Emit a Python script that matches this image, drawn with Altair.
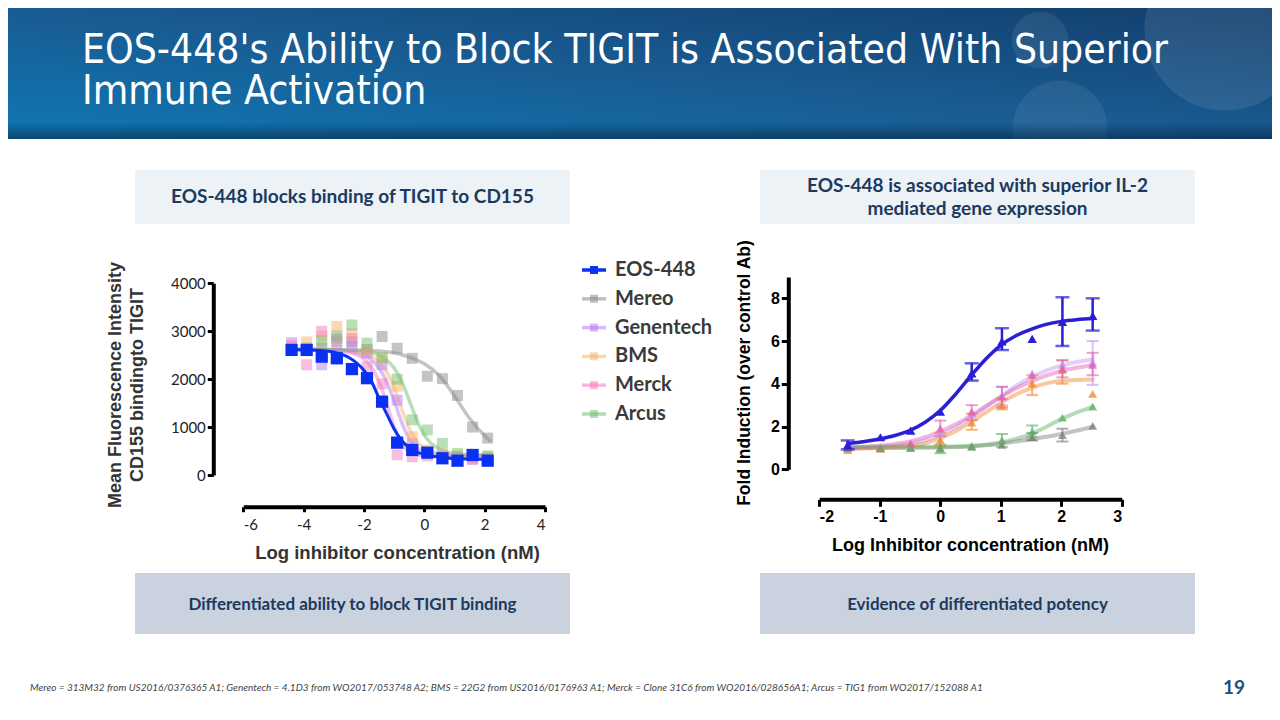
import altair as alt
import pandas as pd

NAMES = ["EOS-448", "Mereo", "Genentech", "BMS", "Merck", "Arcus"]

# ---------------- Left panel: MFI vs log inhibitor concentration ----------------
L_X = [-4.4, -3.9, -3.4, -2.9, -2.4, -1.9, -1.4, -0.9, -0.4, 0.1, 0.6, 1.1, 1.6, 2.1]
L_EOS = [2610, 2610, 2470, 2435, 2210, 2020, 1530, 675, 522, 466, 349, 299, 418, 299]
L_MEREO = [2600, 2620, 2650, 2800, 2780, 2620, 2890, 2645, 2435, 2060, 2010, 1660, 1000, 770]
L_GENEN = [2760, 2600, 2300, 2600, 2680, 2550, 2300, 1560, 650, 470, 420, 380, 330, 350]
L_BMS = [2650, 2780, 2900, 3100, 2950, 2600, 2435, 1850, 800, 520, 430, 400, 380, 380]
L_MERCK = [2700, 2300, 3000, 2850, 2850, 2260, 1900, 420, 380, 400, 380, 360, 330, 340]
L_ARCUS = [2620, 2650, 2800, 2900, 3130, 2750, 2450, 2000, 1150, 940, 660, 450, 420, 400]

# fitted curves
LC_X = [-4.5, -4.0, -3.5, -3.0, -2.5, -2.0, -1.75, -1.5, -1.25, -1.0, -0.75, -0.5, -0.25, 0.0, 0.5, 1.0, 1.5, 2.0, 2.2]
LC_EOS = [2620, 2615, 2600, 2560, 2450, 2180, 1950, 1600, 1280, 960, 720, 570, 480, 430, 370, 345, 335, 330, 330]
LC_MEREO = [2620, 2620, 2620, 2615, 2610, 2600, 2595, 2585, 2570, 2545, 2510, 2460, 2400, 2320, 2070, 1650, 1180, 820, 700]
LC_GENEN = [2620, 2620, 2615, 2605, 2580, 2500, 2400, 2230, 1950, 1550, 1100, 760, 570, 480, 420, 405, 400, 400, 400]
LC_BMS = [2620, 2620, 2618, 2610, 2595, 2550, 2480, 2350, 2150, 1820, 1380, 970, 700, 560, 450, 415, 410, 410, 410]
LC_MERCK = [2620, 2620, 2615, 2600, 2560, 2420, 2250, 1950, 1500, 1000, 650, 480, 420, 400, 390, 385, 385, 385, 385]
LC_ARCUS = [2620, 2620, 2620, 2615, 2605, 2585, 2560, 2500, 2400, 2230, 1950, 1560, 1150, 830, 540, 450, 425, 420, 420]

L_COLORS = ["#0a30f2", "#8a8a8a", "#b77cf2", "#f9b46a", "#f27cc0", "#72c072"]
L_XTICKS = [-6, -4, -2, 0, 2, 4]
L_YTICKS = [0, 1000, 2000, 3000, 4000]

# ---------------- Right panel: fold induction ----------------
R_X = [-1.53, -0.99, -0.49, 0.0, 0.52, 1.02, 1.52, 2.02, 2.52]
R_EOS = [1.14, 1.5, 1.81, 2.7, 4.49, 5.98, 6.1, 6.9, 7.18]
R_MEREO = [1.0, 1.0, 1.0, 1.0, 1.05, 1.14, 1.5, 1.6, 2.03]
R_GENEN = [1.0, 1.0, 1.15, 1.7, 2.6, 3.4, 4.49, 4.9, 5.0]
R_BMS = [0.9, 0.95, 1.2, 1.37, 2.18, 3.0, 4.02, 4.65, 3.53]
R_MERCK = [1.0, 1.0, 1.2, 1.92, 2.7, 3.4, 4.4, 4.7, 4.88]
R_ARCUS = [1.0, 1.0, 1.0, 0.95, 1.1, 1.37, 1.76, 2.42, 2.93]

R_EOS_LO = [0.93, None, None, None, 4.15, 5.58, None, 5.77, 6.49]
R_EOS_HI = [1.35, None, None, None, 4.96, 6.6, None, 8.05, 8.0]
R_MEREO_LO = [None, None, None, None, None, None, 1.35, 1.3, None]
R_MEREO_HI = [None, None, None, None, None, None, 1.7, 1.9, None]
R_GENEN_LO = [None, None, None, None, None, 3.0, None, None, 3.95]
R_GENEN_HI = [None, None, None, None, None, 3.87, None, None, 6.0]
R_BMS_LO = [None, None, None, 1.06, 1.85, 2.8, 3.47, 4.0, None]
R_BMS_HI = [None, None, None, 1.7, 2.6, 3.3, 4.4, 5.1, None]
R_MERCK_LO = [None, None, None, 1.55, 2.3, 2.9, None, 4.3, 4.4]
R_MERCK_HI = [None, None, None, 2.28, 3.0, 3.85, None, 5.1, 5.45]
R_ARCUS_LO = [None, None, None, 0.75, None, 1.05, 1.5, None, None]
R_ARCUS_HI = [None, None, None, 1.15, None, 1.65, 2.05, None, None]

RC_X = [-1.55, -1.25, -1.0, -0.75, -0.5, -0.25, 0.0, 0.25, 0.5, 0.75, 1.0, 1.25, 1.5, 1.75, 2.0, 2.25, 2.55]
RC_EOS = [1.2, 1.3, 1.42, 1.58, 1.82, 2.2, 2.75, 3.5, 4.35, 5.15, 5.8, 6.25, 6.55, 6.78, 6.92, 7.0, 7.05]
RC_MEREO = [1.0, 1.0, 1.0, 1.0, 1.0, 1.01, 1.02, 1.04, 1.07, 1.12, 1.2, 1.3, 1.4, 1.52, 1.65, 1.8, 2.0]
RC_GENEN = [1.0, 1.02, 1.05, 1.1, 1.2, 1.35, 1.6, 1.95, 2.4, 2.9, 3.4, 3.9, 4.3, 4.62, 4.85, 5.02, 5.15]
RC_BMS = [0.95, 0.97, 1.0, 1.04, 1.1, 1.22, 1.45, 1.78, 2.2, 2.65, 3.1, 3.5, 3.8, 4.02, 4.13, 4.18, 4.2]
RC_MERCK = [1.0, 1.05, 1.1, 1.18, 1.3, 1.5, 1.78, 2.1, 2.5, 2.95, 3.38, 3.78, 4.1, 4.38, 4.6, 4.75, 4.88]
RC_ARCUS = [1.05, 1.05, 1.05, 1.05, 1.05, 1.05, 1.06, 1.07, 1.1, 1.15, 1.25, 1.42, 1.65, 1.98, 2.35, 2.65, 2.95]

R_COLORS = ["#2a1fd5", "#7c7c7c", "#c195f2", "#f0862a", "#e25cb0", "#5fae5f"]
R_XTICKS = [-2, -1, 0, 1, 2, 3]
R_YTICKS = [0, 2, 4, 6, 8]

TITLE_LINES = ["EOS-448's Ability to Block TIGIT is Associated With Superior", "Immune Activation"]
FOOTNOTE = ("Mereo = 313M32 from US2016/0376365 A1; Genentech = 4.1D3 from WO2017/053748 A2; "
            "BMS = 22G2 from US2016/0176963 A1; Merck = Clone 31C6 from WO2016/028656A1; "
            "Arcus = TIG1 from WO2017/152088 A1")


def long_df(xs, series):
    rows = []
    for name, ys in series.items():
        for x, y in zip(xs, ys):
            rows.append({"series": name, "x": x, "y": y})
    return pd.DataFrame(rows)


def err_df(xs, series):
    rows = []
    for name, (lo, hi) in series.items():
        for x, a, b in zip(xs, lo, hi):
            if a is not None and b is not None:
                rows.append({"series": name, "x": x, "lo": a, "hi": b})
    return pd.DataFrame(rows)


W, H = 1264, 704
OFF = 8  # page margin

lp = long_df(L_X, dict(zip(NAMES, [L_EOS, L_MEREO, L_GENEN, L_BMS, L_MERCK, L_ARCUS])))
lc = long_df(LC_X, dict(zip(NAMES, [LC_EOS, LC_MEREO, LC_GENEN, LC_BMS, LC_MERCK, LC_ARCUS])))
rp = long_df(R_X, dict(zip(NAMES, [R_EOS, R_MEREO, R_GENEN, R_BMS, R_MERCK, R_ARCUS])))
rc = long_df(RC_X, dict(zip(NAMES, [RC_EOS, RC_MEREO, RC_GENEN, RC_BMS, RC_MERCK, RC_ARCUS])))
re_ = err_df(R_X, dict(zip(NAMES, [(R_EOS_LO, R_EOS_HI), (R_MEREO_LO, R_MEREO_HI), (R_GENEN_LO, R_GENEN_HI),
                                    (R_BMS_LO, R_BMS_HI), (R_MERCK_LO, R_MERCK_HI), (R_ARCUS_LO, R_ARCUS_HI)])))

OTHERS = alt.datum.series != "EOS-448"
EOS = alt.datum.series == "EOS-448"

# ---------------- Left panel ----------------
lxs = alt.Scale(domain=[-6, 4], range=[243.3 - OFF, 545 - OFF], nice=False, zero=False)
lys = alt.Scale(domain=[0, 4000], range=[475 - OFF, 283.3 - OFF], nice=False)
lcol = alt.Color("series:N", scale=alt.Scale(domain=NAMES, range=L_COLORS), legend=None)

lx_axis = alt.Axis(orient="bottom", offset=(506.7 - OFF) - H, values=L_XTICKS, title=None, grid=False,
                   domainColor="black", domainWidth=4, tickColor="black", tickWidth=3, tickSize=5,
                   labelFont="Lato", labelFontSize=15, labelColor="#222", labelPadding=6,
                   labelExpr="'' + datum.value")
ly_axis = alt.Axis(orient="left", offset=-(213.3 - OFF), values=L_YTICKS, title=None, grid=False,
                   domainColor="black", domainWidth=4, tickColor="black", tickWidth=3, tickSize=6,
                   labelFont="Lato", labelFontSize=15, labelColor="#222", labelPadding=2,
                   labelExpr="'' + datum.value")

lX = alt.X("x:Q", scale=lxs, axis=lx_axis)
lY = alt.Y("y:Q", scale=lys, axis=ly_axis)

l_other_lines = alt.Chart(lc).transform_filter(OTHERS).mark_line(strokeWidth=3.5, opacity=0.5, interpolate="monotone").encode(
    x=lX, y=lY, color=lcol, detail="series:N")
l_other_pts = alt.Chart(lp).transform_filter(OTHERS).mark_square(size=120, opacity=0.5).encode(
    x=lX, y=lY, color=lcol)
l_eos_line = alt.Chart(lc).transform_filter(EOS).mark_line(strokeWidth=3, interpolate="monotone").encode(
    x=lX, y=lY, color=lcol)
l_eos_pts = alt.Chart(lp).transform_filter(EOS).mark_square(size=150, opacity=1).encode(
    x=lX, y=lY, color=lcol)
left = alt.layer(l_other_lines, l_other_pts, l_eos_line, l_eos_pts)

# ---------------- Legend ----------------
leg_df = pd.DataFrame({"series": NAMES})
legY = alt.Y("series:N", sort=NAMES, scale=alt.Scale(type="point", domain=NAMES, range=[270 - OFF, 414 - OFF], padding=0), axis=None)
legC = alt.Color("series:N", scale=alt.Scale(domain=NAMES, range=L_COLORS), legend=None)
leg_op = alt.condition(EOS, alt.value(1), alt.value(0.55))
leg_rule = alt.Chart(leg_df).mark_rule(strokeWidth=3.5).encode(
    x=alt.value(582 - OFF), x2=alt.value(606 - OFF), y=legY, color=legC, opacity=leg_op)
leg_sq = alt.Chart(leg_df).mark_square(size=64).encode(
    x=alt.value(594 - OFF), y=legY, color=legC, opacity=leg_op)
leg_txt = alt.Chart(leg_df).mark_text(align="left", baseline="middle", font="Lato", fontSize=20,
                                      fontWeight="bold", color="#3a3a3a").encode(
    x=alt.value(615 - OFF), y=legY, text="series:N")
legend = alt.layer(leg_rule, leg_sq, leg_txt)

# ---------------- Right panel ----------------
rxs = alt.Scale(domain=[-2, 3], range=[819.3 - OFF, 1121.7 - OFF], nice=False, zero=False)
rys = alt.Scale(domain=[0, 9], range=[469.3 - OFF, 469.3 - OFF - 9 * 21.375], nice=False)
rcol = alt.Color("series:N", scale=alt.Scale(domain=NAMES, range=R_COLORS), legend=None)

rx_axis = alt.Axis(orient="bottom", offset=(499.3 - OFF) - H, values=R_XTICKS, title=None, grid=False,
                   domainColor="black", domainWidth=4, tickColor="black", tickWidth=3, tickSize=7,
                   labelFont="Liberation Sans", labelFontWeight="bold", labelFontSize=16, labelColor="black",
                   labelPadding=2, labelExpr="'' + datum.value")
ry_axis = alt.Axis(orient="left", offset=-(788.3 - OFF), values=R_YTICKS, title=None, grid=False,
                   domainColor="black", domainWidth=4, tickColor="black", tickWidth=3, tickSize=7,
                   labelFont="Liberation Sans", labelFontWeight="bold", labelFontSize=16, labelColor="black",
                   labelPadding=2)
rX = alt.X("x:Q", scale=rxs, axis=rx_axis)
rY = alt.Y("y:Q", scale=rys, axis=ry_axis)
rYlo = alt.Y("lo:Q", scale=rys, axis=ry_axis)

r_other_lines = alt.Chart(rc).transform_filter(OTHERS).mark_line(strokeWidth=4, opacity=0.45, interpolate="monotone").encode(
    x=rX, y=rY, color=rcol, detail="series:N")
r_other_err = alt.Chart(re_).transform_filter(OTHERS).mark_rule(strokeWidth=2, opacity=0.6).encode(
    x=rX, y=rYlo, y2="hi:Q", color=rcol)
r_other_cap_lo = alt.Chart(re_).transform_filter(OTHERS).mark_tick(orient="horizontal", size=12, thickness=2, opacity=0.6).encode(
    x=rX, y=rYlo, color=rcol)
r_other_cap_hi = alt.Chart(re_).transform_filter(OTHERS).mark_tick(orient="horizontal", size=12, thickness=2, opacity=0.6).encode(
    x=rX, y=alt.Y("hi:Q", scale=rys, axis=ry_axis), color=rcol)
r_other_pts = alt.Chart(rp).transform_filter(OTHERS).mark_point(shape="triangle-up", filled=True, size=80, opacity=0.75).encode(
    x=rX, y=rY, color=rcol)
r_eos_line = alt.Chart(rc).transform_filter(EOS).mark_line(strokeWidth=3.5, interpolate="monotone").encode(
    x=rX, y=rY, color=rcol)
r_eos_err = alt.Chart(re_).transform_filter(EOS).mark_rule(strokeWidth=2.5).encode(
    x=rX, y=rYlo, y2="hi:Q", color=rcol)
r_eos_cap_lo = alt.Chart(re_).transform_filter(EOS).mark_tick(orient="horizontal", size=14, thickness=2.5).encode(
    x=rX, y=rYlo, color=rcol)
r_eos_cap_hi = alt.Chart(re_).transform_filter(EOS).mark_tick(orient="horizontal", size=14, thickness=2.5).encode(
    x=rX, y=alt.Y("hi:Q", scale=rys, axis=ry_axis), color=rcol)
r_eos_pts = alt.Chart(rp).transform_filter(EOS).mark_point(shape="triangle-up", filled=True, size=90, opacity=1).encode(
    x=rX, y=rY, color=rcol)
right = alt.layer(r_other_lines, r_other_err, r_other_cap_lo, r_other_cap_hi, r_other_pts,
                  r_eos_line, r_eos_err, r_eos_cap_lo, r_eos_cap_hi, r_eos_pts)

# ---------------- Decoration ----------------
banner_grad = alt.LinearGradient(
    gradient="linear",
    stops=[alt.GradientStop(color="#0f78b4", offset=0),
           alt.GradientStop(color="#195b92", offset=0.5),
           alt.GradientStop(color="#123e6c", offset=1)],
    x1=0, x2=1, y1=1, y2=0)
banner = alt.Chart().mark_rect(color=banner_grad).encode(
    x=alt.value(0), x2=alt.value(W), y=alt.value(0), y2=alt.value(139 - OFF))
shadow_grad = alt.LinearGradient(
    gradient="linear",
    stops=[alt.GradientStop(color="rgba(5,30,55,0)", offset=0),
           alt.GradientStop(color="rgba(5,30,55,0.55)", offset=1)],
    x1=0, x2=0, y1=0, y2=1)
shadow = alt.Chart().mark_rect(color=shadow_grad).encode(
    x=alt.value(0), x2=alt.value(W), y=alt.value(122 - OFF), y2=alt.value(139 - OFF))
blob1 = alt.Chart().mark_circle(color="white", opacity=0.09, size=26000).encode(
    x=alt.value(1225 - OFF), y=alt.value(30 - OFF))
blob2 = alt.Chart().mark_circle(color="white", opacity=0.08, size=3200).encode(
    x=alt.value(1040 - OFF), y=alt.value(40 - OFF))
blob3 = alt.Chart().mark_circle(color="white", opacity=0.07, size=9000).encode(
    x=alt.value(1060 - OFF), y=alt.value(128 - OFF))


def txt(s, x, y, **kw):
    return alt.Chart().mark_text(text=s, **kw).encode(x=alt.value(x - OFF), y=alt.value(y - OFF))


def box(x1, x2, y1, y2, fill):
    return alt.Chart().mark_rect(color=fill).encode(
        x=alt.value(x1 - OFF), x2=alt.value(x2 - OFF), y=alt.value(y1 - OFF), y2=alt.value(y2 - OFF))


title = txt(TITLE_LINES, 82, 63, align="left", baseline="alphabetic",
            font="Liberation Sans Narrow, DejaVu Sans Condensed, Roboto",
            fontSize=40.5, lineHeight=41, color="white")

hdr_kw = dict(align="center", baseline="middle", font="Lato", fontSize=19, fontWeight="bold", color="#1b3a5e")
ftr_kw = dict(align="center", baseline="middle", font="Lato", fontSize=17, fontWeight="bold", color="#1b3a5e")

boxes = [
    box(135, 570, 170, 224, "#edf2f7"),
    box(760, 1195, 170, 224, "#edf2f7"),
    box(135, 570, 573, 634, "#c9d2de"),
    box(760, 1195, 573, 634, "#c9d2de"),
]
ax_kw = dict(align="center", baseline="middle", font="Liberation Sans", fontWeight="bold")
texts = [
    title,
    txt("EOS-448 blocks binding of TIGIT to CD155", 352.5, 197, **hdr_kw),
    txt(["EOS-448 is associated with superior IL-2", "mediated gene expression"], 977.5, 186,
        lineHeight=23, **hdr_kw),
    txt("Differentiated ability to block TIGIT binding", 352.5, 605, **ftr_kw),
    txt("Evidence of differentiated potency", 977.5, 605, **ftr_kw),
    txt("Mean Fluorescence Intensity", 116, 385, angle=270, fontSize=18, color="#333", **ax_kw),
    txt("CD155 bindingto TIGIT", 138, 385, angle=270, fontSize=18, color="#333", **ax_kw),
    txt("Log inhibitor concentration (nM)", 397.5, 553, fontSize=18.5, color="#333", **ax_kw),
    txt("Fold Induction (over control Ab)", 745, 373, angle=270, fontSize=17.5, color="black", **ax_kw),
    txt("Log Inhibitor concentration (nM)", 970.5, 546, fontSize=18, color="black", **ax_kw),
    txt(FOOTNOTE, 30, 688, align="left", baseline="middle", font="Lato", fontSize=10,
        fontStyle="italic", color="#444"),
    txt("19", 1234, 688, align="center", baseline="middle", font="Lato", fontSize=19,
        fontWeight="bold", color="#1d4f78"),
]

chart = alt.layer(
    banner, blob1, blob2, blob3, shadow, *boxes, left, legend, right, *texts
).resolve_scale(
    x="independent", y="independent", color="independent"
).resolve_axis(
    x="independent", y="independent"
).properties(
    width=W, height=H, padding=0, autosize=alt.AutoSizeParams(type="none")
).configure_view(stroke=None).configure_axis(grid=False)

chart.save("out.html", embed_options={"renderer": "svg", "actions": False})
